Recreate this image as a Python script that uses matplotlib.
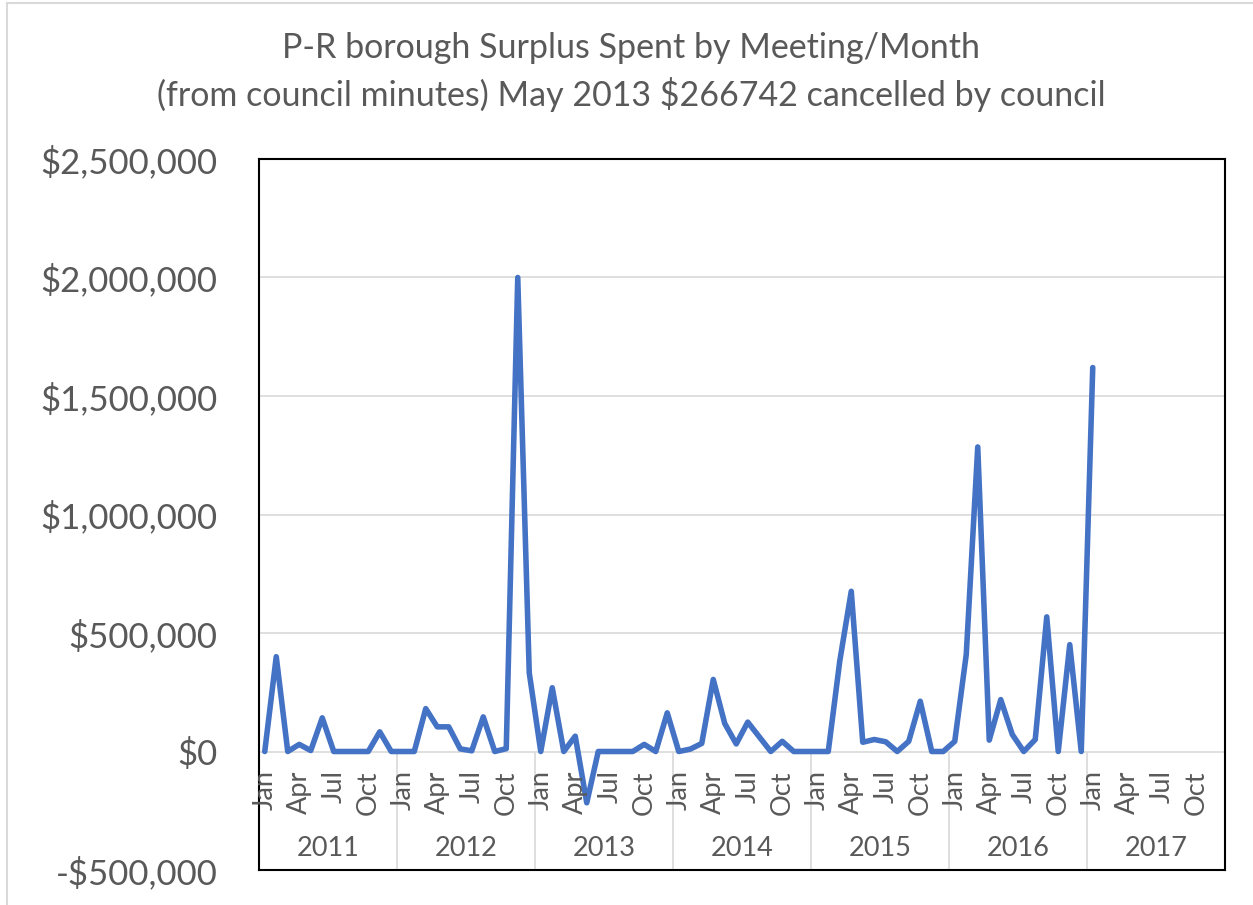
import matplotlib.pyplot as plt
from matplotlib.ticker import FuncFormatter
from matplotlib.lines import Line2D

plt.rcParams['font.family'] = ['Lato', 'DejaVu Sans']

years = ['2011', '2012', '2013', '2014', '2015', '2016', '2017']
month_names = ['Jan', 'Feb', 'Mar', 'Apr', 'May', 'Jun',
               'Jul', 'Aug', 'Sep', 'Oct', 'Nov', 'Dec']

# surplus spent per month, Jan 2011 .. Jan 2017
spent_2011 = [0, 400000, 0, 30000, 4000, 142000, 0, 0, 0, 0, 83000, 0]
spent_2012 = [0, 0, 181000, 104000, 104000, 11000, 3000, 146000, 0, 12000, 2000000, 332000]
spent_2013 = [0, 269000, 0, 64700, -216500, 0, 0, 0, 0, 30000, 0, 163000]
spent_2014 = [0, 10000, 34000, 304000, 118000, 32000, 124000, 62000, 0, 43000, 0, 0]
spent_2015 = [0, 0, 381000, 676000, 39000, 50600, 41000, 0, 43000, 212000, 0, 0]
spent_2016 = [43000, 409000, 1285000, 48000, 219000, 72000, 0, 50600, 568000, 0, 451000, 0]
spent_2017 = [1620000]

spent = spent_2011 + spent_2012 + spent_2013 + spent_2014 + spent_2015 + spent_2016 + spent_2017

TEXT = '#595959'
GRID = '#D9D9D9'
W, H = 1253, 905

fig = plt.figure(figsize=(W / 100, H / 100), dpi=100)
ax = fig.add_axes([259 / W, 1 - 870 / H, (1225 - 259) / W, (870 - 159) / H])

ax.plot(range(len(spent)), spent, color='#4472C4', lw=4,
        solid_joinstyle='round', solid_capstyle='round', zorder=3)

n_months = 12 * len(years)
ax.set_xlim(-0.5, n_months - 0.5)
ax.set_ylim(-500000, 2500000)
ax.set_yticks(range(-500000, 2500001, 500000))


def money(v, pos):
    if v < 0:
        return '-${:,.0f}'.format(-v)
    return '${:,.0f}'.format(v)


ax.yaxis.set_major_formatter(FuncFormatter(money))
ax.tick_params(axis='y', length=0, pad=30, labelsize=25, labelcolor=TEXT)
ax.set_xticks([])
ax.grid(axis='y', color=GRID, lw=1.2)
ax.set_axisbelow(True)
for s in ax.spines.values():
    s.set_color('black')
    s.set_linewidth(1.5)

# two-level category axis below the zero line
ax.vlines([12 * k - 0.5 for k in range(len(years) + 1)], -500000, 0, color=GRID, lw=1.2, zorder=1)
for i in range(0, n_months, 3):
    ax.text(i, -80000, month_names[i % 12], rotation=90, ha='center', va='top',
            fontsize=19.5, color=TEXT)
for k, y in enumerate(years):
    ax.text(12 * k + 5.5, -409000, y, ha='center', va='center', fontsize=19.5, color=TEXT)

# title
fig.text(631 / W, 1 - 48 / H, 'P-R borough Surplus Spent by Meeting/Month',
         ha='center', va='center', fontsize=24.5, color=TEXT)
fig.text(631 / W, 1 - 95 / H, '(from council minutes) May 2013 $266742 cancelled by council',
         ha='center', va='center', fontsize=24.5, color=TEXT)

# chart area border
fig.add_artist(Line2D([7 / W, 7 / W], [0, 1 - 3 / H], transform=fig.transFigure, color=GRID, lw=1.5))
fig.add_artist(Line2D([7 / W, 1], [1 - 3 / H, 1 - 3 / H], transform=fig.transFigure, color=GRID, lw=1.5))

fig.savefig('out.png', dpi=100)
